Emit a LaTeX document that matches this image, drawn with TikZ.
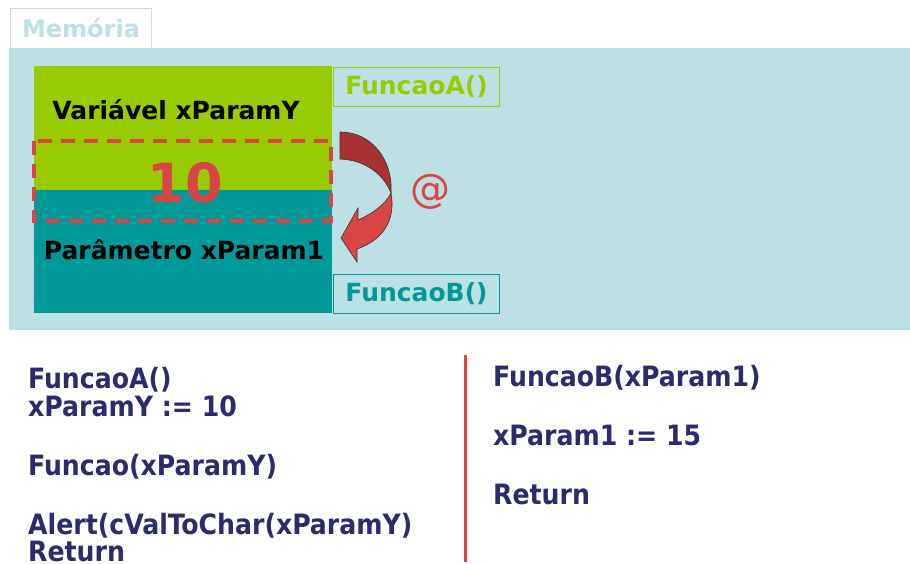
\documentclass[tikz,border=0pt]{standalone}
\usepackage{fontspec}
\setmainfont{DejaVu Sans}
\newfontfamily\condfont{DejaVu Sans Condensed}
\definecolor{memblue}{HTML}{BDE0E4}
\definecolor{fgreen}{HTML}{99CC00}
\definecolor{fteal}{HTML}{009999}
\definecolor{fred}{HTML}{D94545}
\definecolor{fdark}{HTML}{A83232}
\definecolor{fnavy}{HTML}{2B2B6E}
\tikzset{
  codetxt/.style={anchor=base west, text=fnavy, font=\condfont\bfseries\fontsize{28}{30}\selectfont, inner sep=0pt},
  labeltxt/.style={font=\bfseries\fontsize{25}{27}\selectfont, inner sep=0pt},
  funcbox/.style={draw, line width=1pt, font=\bfseries\fontsize{25}{27}\selectfont, inner sep=0pt, minimum width=166pt, minimum height=39pt}
}
\begin{document}
\begin{tikzpicture}[x=1pt,y=-1pt]
\useasboundingbox (0,0) rectangle (910,564);
% memory area
\fill[memblue] (9,48) rectangle (910,330);
\node[draw=memblue, line width=1pt, fill=white, minimum width=141pt, minimum height=40pt, anchor=north west, inner sep=0pt, text=memblue, font=\bfseries\fontsize{24}{26}\selectfont] (mem) at (10,8) {Memória};
% blocks
\fill[fgreen] (34,66) rectangle (332,190);
\fill[fteal] (34,190) rectangle (332,313);
\node[labeltxt] (var) at (176,110) {Variável xParamY};
\node[labeltxt] (par) at (184,250) {Parâmetro xParam1};
\node[funcbox, draw=fgreen, text=fgreen, anchor=north west] (fa) at (333,67) {FuncaoA()};
\node[funcbox, draw=fteal, text=fteal, anchor=north west] (fb) at (333,274) {FuncaoB()};
% dashed value box
\draw[fred, line width=4pt, dash pattern=on 14pt off 9pt] (34,141) rectangle (331,221);
\node[text=fred, font=\bfseries\fontsize{54}{56}\selectfont, inner sep=0pt] (ten) at (185,183) {10};
% curved arrow
\filldraw[fill=fdark, draw=black!80, line width=0.6pt]
  (340,132) .. controls (372,132) and (393,160) .. (391,193)
  .. controls (384,175) and (366,160) .. (340,159) -- cycle;
\filldraw[fill=fred, draw=black!80, line width=0.6pt]
  (391,193) .. controls (386,204) and (372,214) .. (358,220)
  -- (358,208) -- (341,238) -- (357,262) -- (357,249)
  .. controls (383,240) and (396,220) .. (391,193) -- cycle;
\node[text=fred, font=\fontsize{40}{42}\selectfont, inner sep=0pt] (at) at (430,192) {@};
% divider
\draw[fred, line width=3pt] (465,355) -- (465,562);
% code
\node[codetxt] (a1) at (28,388) {FuncaoA()};
\node[codetxt] (a2) at (28,416) {xParamY := 10};
\node[codetxt] (a3) at (28,475) {Funcao(xParamY)};
\node[codetxt] (a4) at (28,534) {Alert(cValToChar(xParamY)};
\node[codetxt, text depth=0pt] (a5) at (28,561) {Return};
\node[codetxt] (b1) at (493,386) {FuncaoB(xParam1)};
\node[codetxt] (b2) at (493,445) {xParam1 := 15};
\node[codetxt] (b3) at (493,504) {Return};
\end{tikzpicture}
\end{document}
